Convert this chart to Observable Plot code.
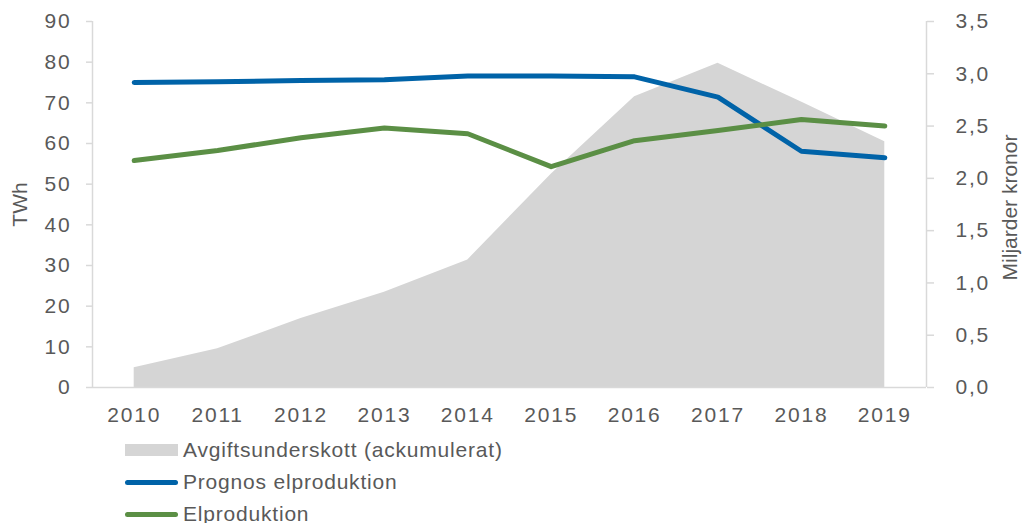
<!DOCTYPE html>
<html>
<head>
<meta charset="utf-8">
<script src="https://cdn.jsdelivr.net/npm/d3@7"></script>
<script src="https://cdn.jsdelivr.net/npm/@observablehq/plot@0.6"></script>
<style>
  html, body { margin: 0; padding: 0; background: #fff; }
  #wrap { position: relative; width: 1024px; height: 523px; overflow: hidden; font-family: "Liberation Sans", Arial, sans-serif; }
  .leg { position: absolute; left: 125px; font-size: 21px; letter-spacing: 0.8px; color: #595959; display: flex; align-items: center; height: 30px; }
  .sw { width: 53px; margin-right: 5px; }
</style>
</head>
<body>
<div id="wrap">
  <div id="chart"></div>
</div>
<script>
const years = [2010, 2011, 2012, 2013, 2014, 2015, 2016, 2017, 2018, 2019];
const prognosElproduktion = [75.0, 75.2, 75.5, 75.7, 76.6, 76.6, 76.4, 71.4, 58.1, 56.5];
const elproduktion = [55.8, 58.3, 61.4, 63.8, 62.4, 54.3, 60.7, 63.2, 65.9, 64.3];
const avgiftsunderskott = [0.19, 0.37, 0.66, 0.91, 1.22, 2.04, 2.78, 3.10, 2.73, 2.35];
const twhTicks = [0, 10, 20, 30, 40, 50, 60, 70, 80, 90];
const sekTicks = [0, 0.5, 1.0, 1.5, 2.0, 2.5, 3.0, 3.5];
const seriesNames = ["Avgiftsunderskott (ackumulerat)", "Prognos elproduktion", "Elproduktion"];
const seriesColors = ["#d5d5d5", "#0063a8", "#5b8f45"];

const k = 90 / 3.5; // right axis (Miljarder kronor) to left axis (TWh)
const axisGray = "#d9d9d9";
const textGray = "#595959";

const chart = Plot.plot({
  width: 1024,
  height: 430,
  marginLeft: 92,
  marginRight: 98,
  marginTop: 21,
  marginBottom: 43,
  x: {domain: [2009.5, 2019.5]},
  y: {domain: [0, 90]},
  style: {fontFamily: "'Liberation Sans', Arial, sans-serif", fontSize: "21px", color: textGray, background: "white", letterSpacing: "1.8px"},
  marks: [
    Plot.areaY(years, {x: years, y: avgiftsunderskott.map(v => v * k), fill: seriesColors[0]}),
    Plot.ruleX([2009.5, 2019.5], {stroke: axisGray, strokeWidth: 1.5}),
    Plot.ruleY([0], {stroke: axisGray, strokeWidth: 1.5}),
    Plot.axisX(years, {tickSize: 0, tickPadding: 20, tickFormat: d => String(d), fill: textGray, label: null}),
    Plot.axisY(twhTicks, {anchor: "left", tickSize: 6, tickPadding: 15, stroke: axisGray, strokeWidth: 1.5, fill: textGray, label: null}),
    Plot.axisY(sekTicks.map(v => v * k), {anchor: "right", tickSize: 7, tickPadding: 22, stroke: axisGray, strokeWidth: 1.5, fill: textGray, label: null,
      tickFormat: d => (d / k).toFixed(1).replace(".", ",")}),
    Plot.lineY(years, {x: years, y: prognosElproduktion, stroke: seriesColors[1], strokeWidth: 5, strokeLinecap: "round", strokeLinejoin: "round"}),
    Plot.lineY(years, {x: years, y: elproduktion, stroke: seriesColors[2], strokeWidth: 5, strokeLinecap: "round", strokeLinejoin: "round"}),
    Plot.text(["TWh"], {frameAnchor: "left", text: d => d, rotate: -90, textAnchor: "middle", dx: -72, dy: 0, fill: textGray}),
    Plot.text(["Miljarder kronor"], {frameAnchor: "right", text: d => d, rotate: -90, textAnchor: "middle", dx: 84, dy: 3, fill: textGray})
  ]
});
d3.select(chart).selectAll('g[aria-label="text"] text').style("letter-spacing", "0px");
document.getElementById("chart").appendChild(chart);

const wrap = document.getElementById("wrap");
const rowCenters = [450, 482, 514];
seriesNames.forEach((name, i) => {
  const row = document.createElement("div");
  row.className = "leg";
  row.style.top = (rowCenters[i] - 15) + "px";
  const sw = document.createElement("div");
  sw.className = "sw";
  if (i === 0) {
    sw.style.height = "12px";
    sw.style.background = seriesColors[i];
  } else {
    sw.style.height = "5px";
    sw.style.borderRadius = "3px";
    sw.style.background = seriesColors[i];
  }
  const label = document.createElement("span");
  label.textContent = name;
  row.appendChild(sw);
  row.appendChild(label);
  wrap.appendChild(row);
});
</script>
</body>
</html>
